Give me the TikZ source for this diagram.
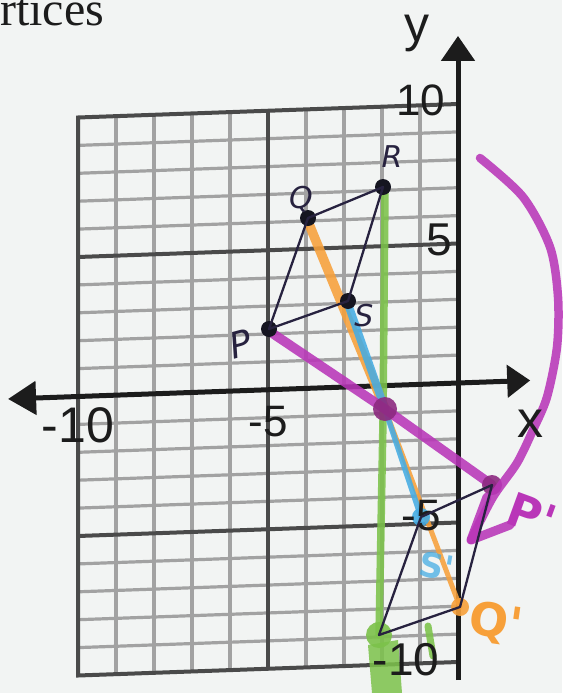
\documentclass[tikz,border=0pt]{standalone}
\usepackage{fontspec}
\setmainfont{Liberation Sans}
\newfontfamily\serifface{Liberation Serif}
\newfontfamily\handface{DejaVu Sans}
\usetikzlibrary{arrows.meta}
\definecolor{paper}{HTML}{F2F4F3}
\definecolor{gridgray}{HTML}{A2A2A2}
\definecolor{griddark}{HTML}{4A4A4A}
\definecolor{axisblack}{HTML}{1C1C1C}
\definecolor{mkmag}{HTML}{B936B8}
\definecolor{mkmagdark}{HTML}{8C2A80}
\definecolor{mkorange}{HTML}{F7A03A}
\definecolor{mkblue}{HTML}{45ACE3}
\definecolor{mkgreen}{HTML}{7CC24A}
\definecolor{inkblue}{HTML}{27223F}
\definecolor{inkblack}{HTML}{151520}
\begin{document}
\begin{tikzpicture}[x=1pt,y=-1pt,
  minorln/.style={draw=gridgray, line width=3.2pt},
  majorln/.style={draw=griddark, line width=4pt},
  axisln/.style={draw=axisblack, line width=5pt},
  axnum/.style={text=axisblack, inner sep=0pt},
  marker/.style={line width=9pt, line cap=round, line join=round, opacity=0.88},
  blob/.style={circle, inner sep=0pt, opacity=0.9},
  edge/.style={draw=inkblue, line width=2.3pt, line join=round},
  vdot/.style={circle, fill=inkblack, minimum size=16pt, inner sep=0pt},
  hand/.style={font=\handface\itshape\fontsize{30}{30}\selectfont, text=inkblue, inner sep=0pt},
  mhand/.style={font=\handface\bfseries\fontsize{46}{46}\selectfont, inner sep=0pt}
]
\useasboundingbox (0,0) rectangle (562,693);
\fill[paper] (0,0) rectangle (562,693);

% header fragment
\node[font=\serifface\fontsize{48}{48}\selectfont, anchor=base west, inner sep=0pt, text=axisblack] (title) at (0,26) {rtices};

% ---------- grid and axes ----------
\begin{scope}[shift={(458pt,-383pt)}, x={(38pt,1.35pt)}, y={(0pt,27.9pt)}]
  \foreach \i in {-9,-8,-7,-6,-4,-3,-2,-1} \draw[minorln] (\i,-10) -- (\i,10);
  \foreach \j in {-9,-8,-7,-6,-4,-3,-2,-1,1,2,3,4,6,7,8,9} \draw[minorln] (-10,\j) -- (0,\j);
  \draw[majorln] (-5,-10) -- (-5,10);
  \draw[majorln] (-10,5) -- (0,5);
  \draw[majorln] (-10,-5) -- (0,-5);
  \draw[majorln, line join=miter] (0,10) -- (-10,10) -- (-10,-10) -- (0,-10);
  \coordinate (ybot) at (0,-10.65);
  \coordinate (ytop) at (0,12.44);
  \coordinate (xleft) at (-11.84,0);
  \coordinate (xright) at (1.9,0);
  \draw[axisln, -{Triangle[length=25pt,width=33pt]}] (ybot) -- (ytop);
  \draw[axisln, {Triangle[length=28pt,width=33pt]}-{Triangle[length=23pt,width=32pt]}] (xleft) -- (xright);
\end{scope}

% ---------- points ----------
\coordinate (C) at (385,409);
\coordinate (Pp) at (492,485);
\coordinate (Qp) at (460,607);
\coordinate (Rp) at (379,635);
\coordinate (Sp) at (421,517);

% ---------- marker strokes ----------
\draw[marker, draw=mkgreen, line width=7.5pt] (385,192) -- (383,420) -- (Rp);
\fill[mkgreen, opacity=0.85] (368,645) -- (398,640) -- (402,693) -- (372,693) -- cycle;
\draw[marker, draw=mkgreen, line width=7pt] (428,626) -- (433,656);
\node[blob, fill=mkgreen, minimum size=26pt] (Rblob) at (Rp) {};

\draw[marker, draw=mkorange, line width=9.5pt] (309,224) -- (C);
\draw[marker, draw=mkorange, line width=5pt] (C) -- (Qp);
\node[blob, fill=mkorange, minimum size=18pt] (Qblob) at (Qp) {};

\draw[marker, draw=mkblue, line width=8pt] (348,304) -- (C);
\draw[marker, draw=mkblue, line width=5.5pt] (C) -- (Sp);
\node[blob, fill=mkblue, minimum size=18pt] (Sblob) at (Sp) {};
\node[font=\handface\bfseries\fontsize{34}{34}\selectfont, text=mkblue, opacity=0.75, rotate=-10, inner sep=0pt] (Slab) at (437,566) {S'};

\draw[marker, draw=mkmag, line width=9.5pt] (269,331) -- (C) -- (Pp);
\node[blob, fill=mkmagdark, minimum size=24pt] (Cblob) at (C) {};
\node[blob, fill=mkmagdark, minimum size=20pt] (Pblob) at (Pp) {};

% rotation arc with hand-drawn head
\draw[marker, draw=mkmag, line width=8.5pt] plot[smooth] coordinates {(480,158) (523,197) (550,247) (558,297) (557,347) (547,397) (533,430) (517,463) (493,497) (471,540)};
\draw[marker, draw=mkmag, line width=9pt] (510,525) -- (471,540) -- (487,497);
\node[mhand, text=mkmag, rotate=-20] (Plab) at (532,515) {P'};
\node[mhand, text=mkorange, rotate=-8] (Qlab) at (496,624) {Q'};

% ---------- axis labels ----------
\node[axnum, font=\fontsize{44}{44}\selectfont] (y10) at (421,100) {10};
\node[axnum, font=\fontsize{46}{46}\selectfont] (y5) at (439,240) {5};
\node[axnum, font=\fontsize{44}{44}\selectfont] (ym5) at (421,516) {-5};
\node[axnum, font=\fontsize{46}{46}\selectfont] (ym10) at (406,660) {-10};
\node[axnum, font=\fontsize{50}{50}\selectfont] (xm10) at (78,425) {-10};
\node[axnum, font=\fontsize{44}{44}\selectfont] (xm5) at (268,422) {-5};
\node[axnum, font=\fontsize{52}{52}\selectfont] (xlab) at (530,424) {x};
\node[axnum, font=\fontsize{50}{50}\selectfont] (ylab) at (417,33) {y};

% ---------- figures ----------
\node[vdot] (P) at (269,329) {};
\node[vdot] (Q) at (308,218) {};
\node[vdot] (R) at (383,187) {};
\node[vdot] (S) at (348,301) {};
\draw[edge] (P.center) -- (Q.center) -- (R.center) -- (S.center) -- cycle;
\draw[edge] (Pp) -- (Qp) -- (Rp) -- (Sp) -- cycle;

\node[hand, font=\handface\itshape\fontsize{36}{36}\selectfont, rotate=15] (Plbl) at (241,344) {P};
\node[hand] (Qlbl) at (301,199) {Q};
\node[hand] (Rlbl) at (392,157) {R};
\node[hand] (Slbl) at (364,316) {S};
\end{tikzpicture}
\end{document}
